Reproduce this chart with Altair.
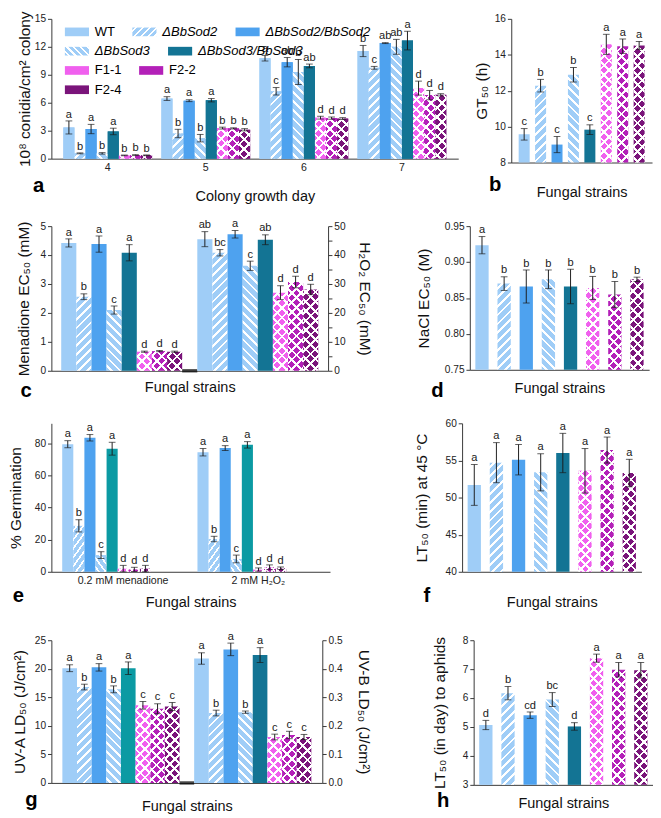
import math
import json
import altair as alt

FONT = "Liberation Sans, Arial, DejaVu Sans, sans-serif"
INK = "#1a1a1a"

# ---------------- data ----------------
strains = ["WT", "ΔBbSod2", "ΔBbSod2/BbSod2", "ΔBbSod3", "ΔBbSod3/BbSod3", "F1-1", "F2-2", "F2-4"]
strain_patterns = ["solid", "fwd", "solid", "back", "solid", "cross", "cross", "cross"]
strain_colors = ["#9fcdf7", "#9fcdf7", "#4ea2ef", "#9fcdf7", "#137494", "#f060ee", "#b320b8", "#7a147a"]
teal = "#0b9aa3"

# (a) conidial yield
a_days = ["4", "5", "6", "7"]
a_day4_mean = [3.35, 0.57, 3.18, 0.57, 2.92, 0.35, 0.38, 0.36]
a_day4_err = [0.7, 0.05, 0.5, 0.08, 0.35, 0.04, 0.05, 0.04]
a_day4_sig = ["a", "b", "a", "b", "a", "b", "b", "b"]
a_day5_mean = [6.45, 2.7, 6.22, 2.2, 6.27, 3.28, 3.25, 3.1]
a_day5_err = [0.2, 0.45, 0.1, 0.4, 0.18, 0.1, 0.06, 0.12]
a_day5_sig = ["a", "b", "a", "b", "a", "b", "b", "b"]
a_day6_mean = [10.78, 7.23, 10.35, 9.3, 9.95, 4.4, 4.35, 4.3]
a_day6_err = [0.3, 0.4, 0.5, 1.35, 0.2, 0.15, 0.12, 0.1]
a_day6_sig = ["a", "c", "ab", "b", "ab", "d", "d", "d"]
a_day7_mean = [11.55, 9.75, 12.4, 12.0, 12.67, 7.57, 6.82, 6.85]
a_day7_err = [0.6, 0.15, 0.05, 0.8, 1.0, 0.75, 0.5, 0.12]
a_day7_sig = ["b", "c", "ab", "ab", "a", "d", "d", "d"]

# (b) GT50
b_mean = [9.57, 12.28, 9.0, 12.89, 9.83, 14.58, 14.48, 14.52]
b_err = [0.32, 0.35, 0.45, 0.4, 0.27, 0.56, 0.4, 0.22]
b_sig = ["c", "b", "c", "b", "c", "a", "a", "a"]

# (c) EC50 menadione (left) / H2O2 (right)
c_menadione_mean = [4.42, 2.56, 4.38, 2.1, 4.08, 0.66, 0.68, 0.66]
c_menadione_err = [0.14, 0.1, 0.28, 0.14, 0.28, 0.02, 0.02, 0.02]
c_menadione_sig = ["a", "b", "a", "c", "a", "d", "d", "d"]
c_h2o2_mean = [45.5, 40.8, 47.2, 36.3, 45.3, 27.0, 30.7, 28.1]
c_h2o2_err = [2.6, 1.1, 1.3, 1.6, 1.7, 2.4, 2.0, 1.8]
c_h2o2_sig = ["ab", "bc", "a", "c", "ab", "d", "d", "d"]

# (d) NaCl EC50
d_mean = [0.9235, 0.870, 0.866, 0.876, 0.866, 0.864, 0.855, 0.876]
d_err = [0.012, 0.0095, 0.023, 0.013, 0.024, 0.016, 0.018, 0.003]
d_sig = ["a", "b", "b", "b", "b", "b", "b", "b"]

# (e) germination
e_conditions = ["0.2 mM menadione", "2 mM H₂O₂"]
e_menadione_mean = [79.4, 28.6, 83.4, 10.4, 76.6, 2.0, 1.5, 2.0]
e_menadione_err = [2.2, 3.8, 2.0, 2.1, 4.0, 2.0, 1.3, 2.0]
e_menadione_sig = ["a", "b", "a", "c", "a", "d", "d", "d"]
e_h2o2_mean = [74.4, 20.4, 77.0, 8.0, 79.0, 1.4, 2.8, 2.2]
e_h2o2_err = [2.3, 1.7, 1.5, 2.4, 2.0, 1.0, 1.5, 0.8]
e_h2o2_sig = ["a", "b", "a", "c", "a", "d", "d", "d"]

# (f) heat LT50
f_mean = [51.7, 54.7, 55.1, 53.4, 56.0, 53.6, 56.4, 53.3]
f_err = [2.75, 2.7, 2.05, 2.5, 2.65, 3.0, 1.75, 1.85]
f_sig = ["a", "a", "a", "a", "a", "a", "a", "a"]

# (g) UV-A (left) / UV-B (right)
g_uva_mean = [20.1, 16.8, 20.25, 16.4, 20.1, 13.6, 13.0, 13.4]
g_uva_err = [0.6, 0.5, 0.65, 0.6, 1.1, 0.67, 0.87, 0.7]
g_uva_sig = ["a", "b", "a", "b", "a", "c", "c", "c"]
g_uvb_mean = [0.436, 0.245, 0.468, 0.248, 0.448, 0.161, 0.168, 0.161]
g_uvb_err = [0.02, 0.01, 0.022, 0.004, 0.026, 0.01, 0.013, 0.009]
g_uvb_sig = ["a", "b", "a", "b", "a", "c", "c", "c"]

# (h) virulence LT50
h_mean = [5.07, 6.17, 5.41, 5.95, 5.02, 7.38, 6.98, 6.96]
h_err = [0.16, 0.23, 0.11, 0.24, 0.13, 0.14, 0.25, 0.27]
h_sig = ["d", "b", "cd", "bc", "d", "a", "a", "a"]

# ---------------- helpers ----------------
WHITE = "#ffffff"
CLEAR = "rgba(255,255,255,0)"


def stripe_gradient(w, h, color, direction, spacing, line):
    w = max(w, 1.0)
    h = max(h, 1.0)
    total = w + h
    k = total / (w * w + h * h)
    if direction == "fwd":
        x1, y1, x2, y2 = 0, 0, k * w, k * h
    else:
        x1, y1, x2, y2 = 0, 1, k * w, 1 - k * h
    period = spacing * math.sqrt(2)
    thick = line * math.sqrt(2)
    stops = [{"offset": 0, "color": color}]
    s = period * 0.4
    while s < total:
        a = round(s / total, 4)
        b = round(min((s + thick) / total, 1.0), 4)
        stops += [{"offset": a, "color": color}, {"offset": a, "color": WHITE},
                  {"offset": b, "color": WHITE}, {"offset": b, "color": color}]
        s += period
    stops.append({"offset": 1, "color": color})
    return {"gradient": "linear", "x1": x1, "y1": y1, "x2": round(x2, 5),
            "y2": round(y2, 5), "stops": stops}


def bar_fill(i, w, h, color):
    p = strain_patterns[i]
    if p == "solid":
        return color, None
    if p in ("fwd", "back"):
        return stripe_gradient(w, h, color, p, 6.5, 2.0), None
    return (stripe_gradient(w, h, color, "fwd", 7.0, 2.0),
            stripe_gradient(w, h, CLEAR, "back", 7.0, 2.0))


def make_records(mean, err, sig, bar_w, plot_h, ydom, extra, colors=None):
    colors = colors or strain_colors
    recs = []
    for i, s in enumerate(strains):
        hpx = (mean[i] - ydom[0]) / (ydom[1] - ydom[0]) * plot_h
        fa, fb = bar_fill(i, bar_w, hpx, colors[i])
        r = {"strain": s, "value": mean[i], "lo": mean[i] - err[i],
             "hi": mean[i] + err[i], "sig": sig[i], "fa": fa, "fb": fb}
        r.update(extra(i))
        recs.append(r)
    return recs


def band_step(width, n, pin, pout):
    return width / (n - pin + 2 * pout)


def data_layers(xenc, yscale, yaxis, base_value=0, cap=7):
    base = alt.Chart().encode(**xenc)

    def Y(f):
        return alt.Y(f, scale=yscale, axis=yaxis)

    bars = base.mark_bar().encode(y=Y("value:Q"), y2=alt.datum(base_value),
                                  fill=alt.Fill("fa:N", scale=None))
    hatch = base.transform_filter("isValid(datum.fb)").mark_bar().encode(
        y=Y("value:Q"), y2=alt.datum(base_value), fill=alt.Fill("fb:N", scale=None))
    rule = base.mark_rule(color=INK, strokeWidth=1).encode(y=Y("lo:Q"), y2=alt.Y2("hi:Q"))
    lo = base.mark_tick(color=INK, thickness=1, size=cap).encode(y=Y("lo:Q"))
    hi = base.mark_tick(color=INK, thickness=1, size=cap).encode(y=Y("hi:Q"))
    txt = base.mark_text(font=FONT, fontSize=11.5, baseline="bottom", dy=-1.5,
                         color=INK).encode(y=Y("hi:Q"), text="sig:N")
    return [bars, hatch, rule, lo, hi, txt]


def letter(t, dx, dy):
    return alt.Title(t, orient="bottom", anchor="start", frame="group", dx=dx, dy=dy,
                     offset=0, fontSize=21, fontWeight="bold", font=FONT, color="#000")


def fungal_axis(tp):
    return alt.Axis(labels=False, ticks=False, title="Fungal strains", titleFontSize=15,
                    titlePadding=tp)


def simple_panel(mean, err, sig, ydom, yvals, ytitle, W, H, ytp, xtp, let, fmt=None,
                 pin=0.4, pout=0.25):
    step = band_step(W, 8, pin, pout)
    recs = make_records(mean, err, sig, step * (1 - pin), H, ydom, lambda i: {})
    xenc = {"x": alt.X("strain:N", sort=strains,
                       scale=alt.Scale(domain=strains, paddingInner=pin, paddingOuter=pout),
                       axis=fungal_axis(xtp))}
    ys = alt.Scale(domain=list(ydom), nice=False, zero=False)
    ax_kw = dict(values=yvals, title=ytitle, titlePadding=ytp)
    if fmt:
        ax_kw["format"] = fmt
    yax = alt.Axis(**ax_kw)
    return alt.layer(*data_layers(xenc, ys, yax, base_value=ydom[0]),
                     data=alt.Data(values=recs)).properties(width=W, height=H, title=let)


SYM = "M-1,-0.36H1V0.36H-1Z"

# ---------------- panel a ----------------
A_W, A_H = 422, 145
a_pin, a_pout = 0.095, 0.122
a_barw = band_step(A_W, 4, a_pin, a_pout) * (1 - a_pin) / 8
a_recs = []
for d, m, e, s in zip(a_days, [a_day4_mean, a_day5_mean, a_day6_mean, a_day7_mean],
                      [a_day4_err, a_day5_err, a_day6_err, a_day7_err],
                      [a_day4_sig, a_day5_sig, a_day6_sig, a_day7_sig]):
    a_recs += make_records(m, e, s, a_barw, A_H, (0, 15), lambda i, d=d: {"day": d})

a_x = {"x": alt.X("day:N", sort=a_days,
                  scale=alt.Scale(domain=a_days, paddingInner=a_pin, paddingOuter=a_pout),
                  axis=alt.Axis(title="Colony growth day", labelAngle=0, ticks=False,
                                labelPadding=3, labelFontSize=11, titleFontSize=15,
                                titlePadding=17)),
       "xOffset": alt.XOffset("strain:N", sort=strains,
                              scale=alt.Scale(domain=strains, paddingInner=0, paddingOuter=0))}
a_ys = alt.Scale(domain=[0, 15], nice=False)
a_yax = alt.Axis(values=[0, 3, 6, 9, 12, 15], title="10⁸ conidia/cm² colony", titlePadding=2)


def legend_swatch(i):
    p = strain_patterns[i]
    if p in ("fwd", "back"):
        return {"expr": json.dumps(stripe_gradient(25, 9, strain_colors[i], p, 5.0, 1.6))}
    return strain_colors[i]


leg_common = dict(orient="none", direction="horizontal", title=None,
                  symbolType=SYM, symbolSize=625, symbolStrokeWidth=0, labelFontSize=13.5,
                  labelFont=FONT, labelColor="#000", labelOffset=6, columnPadding=18,
                  symbolOpacity=1, legendX=14)
ITALIC = {"expr": "datum.value === 'WT' ? 'normal' : 'italic'"}

legend_rows = [(0, 3, 1, True), (3, 5, 21, True), (5, 7, 41, False), (7, 8, 61, False)]
legend_layers = []
for lo_i, hi_i, ly, ital in legend_rows:
    dom = strains[lo_i:hi_i]
    kw = dict(leg_common, legendY=ly)
    if ital:
        kw["labelFontStyle"] = ITALIC
    legend_layers.append(
        alt.Chart().transform_filter(
            alt.FieldOneOfPredicate(field="strain", oneOf=dom)
        ).mark_bar().encode(
            **a_x,
            y=alt.Y("value:Q", scale=a_ys, axis=a_yax),
            fill=alt.Fill("strain:N", sort=dom,
                          scale=alt.Scale(domain=dom,
                                          range=[legend_swatch(i) for i in range(lo_i, hi_i)]),
                          legend=alt.Legend(**kw)),
        )
    )

pa = alt.layer(*legend_layers, *data_layers(a_x, a_ys, a_yax),
               data=alt.Data(values=a_recs)).resolve_scale(
    fill="independent").resolve_legend(fill="independent").properties(
    width=A_W, height=A_H, title=letter("a", -19, -28))

# ---------------- panel b ----------------
pb = simple_panel(b_mean, b_err, b_sig, (8, 16), [8, 10, 12, 14, 16], "GT₅₀ (h)",
                  146, 149, 5, 23, letter("b", -23, -25), pin=0.33, pout=0.45)


# ---------------- dual panels c, g ----------------
def dual_panel(lm, le, ls, rm, re_, rs, ldom, rdom, lvals, rvals, ltitle, rtitle, W, H,
               pout, ltp, rtp, xtp, let, rfmt=None, rlabelexpr=None, lcolors=None, rcolors=None):
    slots = list(range(17))
    step = band_step(W, 17, 0, pout)
    lrec = make_records(lm, le, ls, step, H, ldom, lambda i: {"slot": i}, lcolors)
    rrec = make_records(rm, re_, rs, step, H, rdom, lambda i: {"slot": i + 9}, rcolors)
    xenc = {"x": alt.X("slot:O", scale=alt.Scale(domain=slots, paddingInner=0, paddingOuter=pout),
                       axis=fungal_axis(xtp))}
    ysl = alt.Scale(domain=list(ldom), nice=False)
    ysr = alt.Scale(domain=list(rdom), nice=False)
    yaxl = alt.Axis(orient="left", values=lvals, title=ltitle, titlePadding=ltp)
    rkw = dict(orient="right", values=rvals, title=rtitle, titlePadding=rtp)
    if rfmt:
        rkw["format"] = rfmt
    if rlabelexpr:
        rkw["labelExpr"] = rlabelexpr
    yaxr = alt.Axis(**rkw)
    sep = alt.Chart(alt.Data(values=[{"slot": 8, "v": 0}])).mark_tick(
        color="#000", thickness=3.5, size=step).encode(
        x=alt.X("slot:O", scale=alt.Scale(domain=slots, paddingInner=0, paddingOuter=pout),
                axis=fungal_axis(xtp)),
        y=alt.Y("v:Q", scale=ysl, axis=yaxl))
    left = alt.layer(*data_layers(xenc, ysl, yaxl), sep, data=alt.Data(values=lrec))
    right = alt.layer(*data_layers(xenc, ysr, yaxr), data=alt.Data(values=rrec))
    return alt.layer(left, right).resolve_scale(y="independent").properties(
        width=W, height=H, title=let)


pc = dual_panel(c_menadione_mean, c_menadione_err, c_menadione_sig,
                c_h2o2_mean, c_h2o2_err, c_h2o2_sig,
                (0, 5), (0, 50), [0, 1, 2, 3, 4, 5], list(range(0, 51, 5)),
                "Menadione EC₅₀ (mM)", "H₂O₂ EC₅₀ (mM)", 287, 150, 0.65, 9, 12, 10,
                letter("c", -32, -15),
                rlabelexpr="datum.value % 10 === 0 ? datum.label : ''")

g_left_colors = strain_colors[:4] + [teal] + strain_colors[5:]
pg = dual_panel(g_uva_mean, g_uva_err, g_uva_sig, g_uvb_mean, g_uvb_err, g_uvb_sig,
                (0, 25), (0, 0.5), [0, 5, 10, 15, 20, 25], [0, 0.1, 0.2, 0.3, 0.4, 0.5],
                "UV-A LD₅₀ (J/cm²)", "UV-B LD₅₀ (J/cm²)", 281, 148, 0.75, 7, 14, 17,
                letter("g", -27, -25), rfmt=".1f", lcolors=g_left_colors)

# ---------------- panel d, f, h ----------------
pd_ = simple_panel(d_mean, d_err, d_sig, (0.75, 0.95), [0.75, 0.80, 0.85, 0.90, 0.95],
                   "NaCl EC₅₀ (M)", 186, 149, 13, 12, letter("d", -40, -16), fmt=".2f")
pf = simple_panel(f_mean, f_err, f_sig, (40, 60), [40, 45, 50, 55, 60],
                  "LT₅₀ (min) at 45 °C", 186, 154, 16, 24, letter("f", -40, -25))
ph = simple_panel(h_mean, h_err, h_sig, (3, 8), [3, 4, 5, 6, 7, 8],
                  "LT₅₀ (in day) to aphids", 186, 150, 15, 12, letter("h", -38, -21))

# ---------------- panel e ----------------
E_W, E_H = 289, 154
e_pin, e_pout = 0.1, 0.08
e_barw = band_step(E_W, 2, e_pin, e_pout) * (1 - e_pin) / 8
e_colors = strain_colors[:4] + [teal] + strain_colors[5:]
e_recs = []
for cnd, m, er, s in zip(e_conditions, [e_menadione_mean, e_h2o2_mean],
                         [e_menadione_err, e_h2o2_err], [e_menadione_sig, e_h2o2_sig]):
    e_recs += make_records(m, er, s, e_barw, E_H, (0, 92.4), lambda i, c=cnd: {"cond": c},
                           e_colors)
e_x = {"x": alt.X("cond:N", sort=e_conditions,
                  scale=alt.Scale(domain=e_conditions, paddingInner=e_pin, paddingOuter=e_pout),
                  axis=alt.Axis(title="Fungal strains", labelAngle=0, ticks=False,
                                labelPadding=3, labelFontSize=11, titleFontSize=15,
                                titlePadding=10)),
       "xOffset": alt.XOffset("strain:N", sort=strains,
                              scale=alt.Scale(domain=strains, paddingInner=0, paddingOuter=0))}
e_ys = alt.Scale(domain=[0, 92.4], nice=False)
e_yax = alt.Axis(values=[0, 20, 40, 60, 80], title="% Germination", titlePadding=11)
pe = alt.layer(*data_layers(e_x, e_ys, e_yax), data=alt.Data(values=e_recs)).properties(
    width=E_W, height=E_H, title=letter("e", -40, -25))


# ---------------- layout ----------------
def indep(c):
    return c.resolve_scale(fill="independent").resolve_legend(fill="independent")


row1 = indep(alt.hconcat(pa, pb, spacing=16))
row2 = alt.hconcat(pc, pd_, spacing=45)
row3 = alt.hconcat(pe, pf, spacing=87)
row4 = alt.hconcat(pg, ph, spacing=63)

chart = indep(alt.vconcat(
    indep(alt.vconcat(row1, alt.vconcat(row2, row3, spacing=18.5), spacing=16)),
    row4, spacing=21.5,
)).properties(padding={"top": -13, "left": 0, "right": 0, "bottom": 0}).configure(
    font=FONT).configure_axis(
    grid=False, labelFont=FONT, titleFont=FONT, labelFontSize=10.5, titleFontSize=16,
    titleFontWeight="normal", labelColor="#222", titleColor="#111", domainColor="#333",
    tickColor="#333", tickSize=4, labelPadding=2,
).configure_view(stroke=None)

chart.save("out.html", embed_options={"renderer": "svg", "actions": False})
